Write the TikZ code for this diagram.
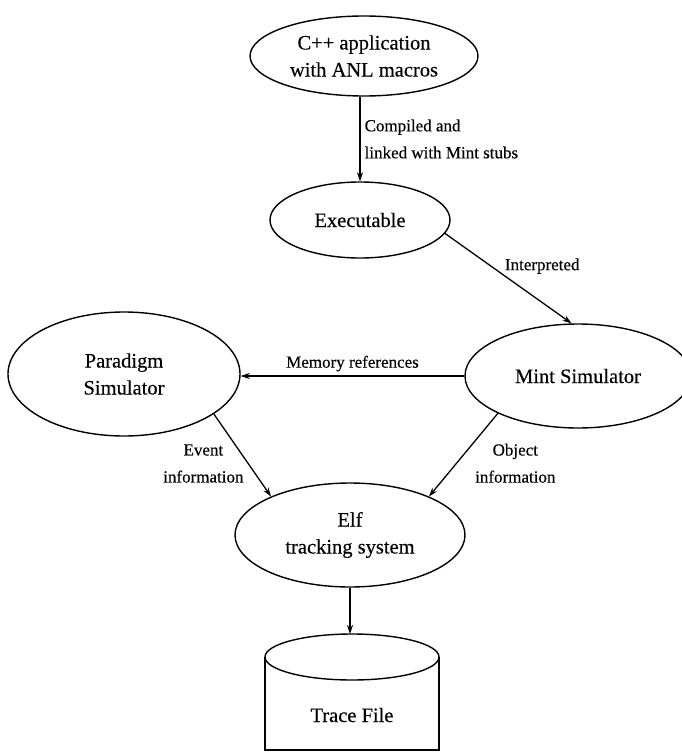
\documentclass[tikz,border=0pt]{standalone}
\usepackage{fontspec}
\setmainfont{Liberation Serif}[FakeBold=0.3]
\usetikzlibrary{shapes.geometric,arrows.meta,calc}
\begin{document}
\begin{tikzpicture}[x=1pt,y=-1pt,
  every node/.style={font=\fontsize{20.5}{27}\selectfont},
  blob/.style={ellipse, draw, line width=1.4pt, inner sep=0pt, align=center},
  lbl/.style={font=\fontsize{17}{27}\selectfont, inner sep=4pt},
  arr/.style={line width=1.3pt, -{Stealth[length=9pt,width=6pt]}},
  edge/.style={line width=1.4pt}]
\useasboundingbox (0,0) rectangle (682,752);
\clip (0,0) rectangle (682,752);

% processes
\node[blob, minimum width=228pt, minimum height=80pt]  (app)  at (364,56)  {C++ application\\with ANL macros};
\node[blob, minimum width=180pt, minimum height=76pt]  (exe)  at (360,220) {Executable};
\node[blob, minimum width=232pt, minimum height=124pt] (para) at (124,374) {Paradigm\\Simulator};
\node[blob, minimum width=226pt, minimum height=104pt] (mint) at (578,376) {Mint Simulator};
\node[blob, minimum width=230pt, minimum height=104pt] (elf)  at (350,535) {Elf\\tracking system};

% trace file store
\coordinate (tracetop) at (350,634);
\draw[edge, fill=white] (265,657) -- (265,750) -- (439,750) -- (439,657);
\draw[edge] (352,657) ellipse [x radius=87, y radius=23];
\node (trace) at (352,715) {Trace File};

% data flow
\draw[arr] (exe.north |- app.south) -- node[lbl, right, align=left] {Compiled and\\linked with Mint stubs} (exe.north);
\draw[arr] (exe.-9) -- node[lbl, pos=0.5, anchor=south west, xshift=-8pt] {Interpreted} (mint.97);
\draw[arr] (mint.west) -- node[lbl, above] {Memory references} (mint.west -| para.east);
\draw[arr] (para.-24) -- node[lbl, pos=0.6, left, align=center] {Event\\information} (elf.154);
\draw[arr] (mint.-155) -- node[lbl, pos=0.6, right, align=center, xshift=14pt] {Object\\information} (elf.26);
\draw[arr] (elf.south) -- (tracetop);
\end{tikzpicture}
\end{document}
